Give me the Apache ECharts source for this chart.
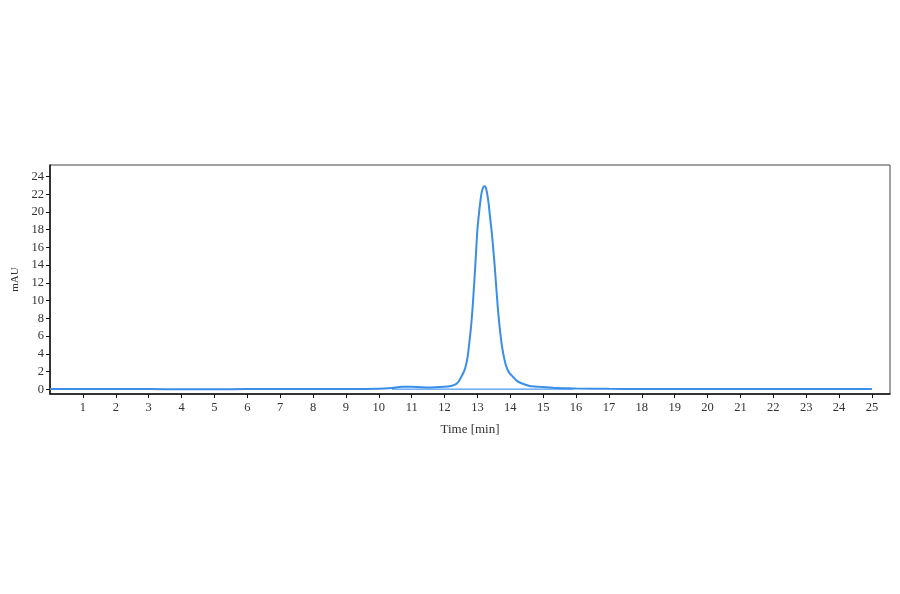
<!DOCTYPE html>
<html>
<head>
<meta charset="utf-8">
<script src="https://cdn.jsdelivr.net/npm/echarts@6/dist/echarts.min.js"></script>
<style>html,body{margin:0;padding:0;background:#fff}#c{width:900px;height:594px}</style>
</head>
<body>
<div id="c"></div>
<script>
const times = [0,1,2,3,4,5,6,7,8,9,10,10.4,10.7,11.0,11.5,12.0,12.2,12.3,12.38,12.45,12.51,12.58,12.64,12.70,12.74,12.80,12.85,12.90,12.94,13.0,13.05,13.09,13.13,13.18,13.22,13.26,13.30,13.34,13.38,13.44,13.52,13.58,13.63,13.69,13.75,13.82,13.88,13.97,14.08,14.2,14.34,14.59,14.89,15.3,15.7,16,17,18,19,20,21,22,23,24,25];
const signal = [0.02,0.02,0.02,0.02,0.01,0.01,0.02,0.02,0.02,0.02,0.05,0.15,0.3,0.28,0.2,0.28,0.38,0.5,0.68,1.0,1.42,1.9,2.55,3.6,4.8,6.8,9.0,11.8,14.2,18.0,19.9,21.2,22.2,22.8,22.9,22.7,22.0,21.0,19.6,17.6,14.2,11.2,8.8,6.6,4.8,3.4,2.55,1.85,1.42,0.95,0.68,0.37,0.28,0.18,0.12,0.08,0.05,0.04,0.03,0.03,0.02,0.02,0.02,0.02,0.02];
const baselineTimes = [10.4, 15.9];
const baselineValues = [0.02, 0.02];
const xTicks = [1,2,3,4,5,6,7,8,9,10,11,12,13,14,15,16,17,18,19,20,21,22,23,24,25];
const yTicks = [0,2,4,6,8,10,12,14,16,18,20,22,24];

const font = 'Liberation Serif';
const chart = echarts.init(document.getElementById('c'), null, {renderer:'canvas'});
chart.setOption({
  animation: false,
  backgroundColor: '#fff',
  grid: {left: 50, right: 10, top: 165, bottom: 200, show: true, borderColor: '#444', borderWidth: 1, backgroundColor: 'transparent'},
  xAxis: {
    type: 'value', min: 0, max: 25.55,
    name: 'Time [min]', nameLocation: 'middle', nameGap: 29,
    nameTextStyle: {fontFamily: font, fontSize: 13, color: '#333'},
    axisLine: {show: true, onZero: false, lineStyle: {color: '#111', width: 1.5}},
    axisTick: {show: true, inside: false, length: 4, customValues: xTicks, lineStyle: {color: '#111'}},
    axisLabel: {customValues: xTicks, fontFamily: font, fontSize: 12.5, color: '#333', margin: 7},
    splitLine: {show: false}
  },
  yAxis: {
    type: 'value', min: -0.53, max: 25.3,
    name: 'mAU', nameLocation: 'middle', nameGap: 27, nameRotate: 90,
    nameTextStyle: {fontFamily: font, fontSize: 11, color: '#333'},
    axisLine: {show: true, onZero: false, lineStyle: {color: '#111', width: 1.5}},
    axisTick: {show: true, inside: false, length: 4, customValues: yTicks, lineStyle: {color: '#111'}},
    axisLabel: {customValues: yTicks, fontFamily: font, fontSize: 12.5, color: '#333', margin: 6},
    splitLine: {show: false}
  },
  series: [
    {
      type: 'line', showSymbol: false, silent: true,
      data: baselineTimes.map((t, i) => [t, baselineValues[i]]),
      lineStyle: {color: '#4a9af0', width: 1.2}
    },
    {
      type: 'line', showSymbol: false, smooth: 0.25,
      data: times.map((t, i) => [t, signal[i]]),
      lineStyle: {color: '#3a8ee8', width: 2}
    }
  ]
});
</script>
</body>
</html>
